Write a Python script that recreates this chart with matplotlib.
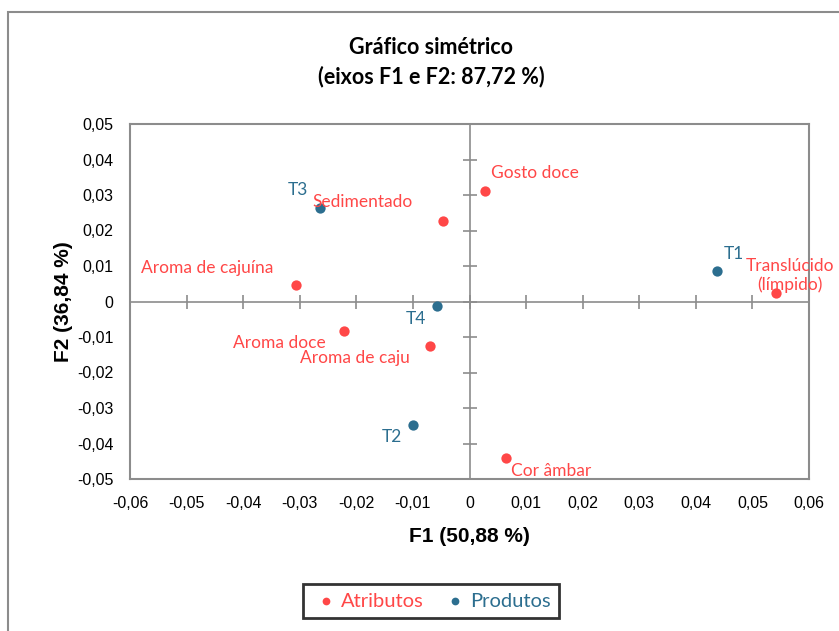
import matplotlib
matplotlib.use("Agg")
import matplotlib.pyplot as plt
from matplotlib.patches import Rectangle
import numpy as np

# ---- data ----
attr_names = ["Gosto doce", "Sedimentado", "Aroma de cajuína", "Aroma doce",
              "Aroma de caju", "Cor âmbar", "Translúcido\n(límpido)"]
attr_f1 = [0.0027, -0.0046, -0.0306, -0.0221, -0.0069, 0.0065, 0.0541]
attr_f2 = [0.0310, 0.0226, 0.0046, -0.0082, -0.0124, -0.0442, 0.0025]

prod_names = ["T1", "T2", "T3", "T4"]
prod_f1 = [0.0437, -0.0099, -0.0265, -0.0057]
prod_f2 = [0.0087, -0.0349, 0.0262, -0.0014]

xticks = [-0.06, -0.05, -0.04, -0.03, -0.02, -0.01, 0, 0.01, 0.02, 0.03, 0.04, 0.05, 0.06]
yticks = [-0.05, -0.04, -0.03, -0.02, -0.01, 0, 0.01, 0.02, 0.03, 0.04, 0.05]

# ---- label placement (pixel offsets, ha, va) ----
attr_off = [(6, 18, "left"), (-31, 19, "right"), (-23, 17, "right"), (-19, -12, "right"),
            (-21, -12, "right"), (5, -13, "left"), (14, 17, "center")]
prod_off = [(7, 17, "left"), (-11, -12, "right"), (-11, 18, "right"), (-11, -13, "right")]

RED = "#FF4747"
BLUE = "#2C6E8F"
GRAY = "#8C8C8C"
LBL = ["Lato", "DejaVu Sans"]
NARROW = ["Liberation Sans Narrow", "Liberation Sans", "DejaVu Sans"]

fig = plt.figure(figsize=(8.39, 6.31), dpi=100)
ax = fig.add_axes([130/839, 1-479/631, (809-130)/839, (479-124)/631])

ax.set_xlim(-0.06, 0.06)
ax.set_ylim(-0.05, 0.05)

def fmt(v):
    s = ("%.2f" % v).replace(".", ",")
    if abs(v) < 1e-9:
        s = "0"
    return s

ax.set_xticks(xticks)
ax.set_xticklabels([fmt(v) for v in xticks], family=NARROW, fontsize=11.5)
ax.set_yticks(yticks)
ax.set_yticklabels([fmt(v) for v in yticks], family=NARROW, fontsize=11.5)
ax.tick_params(axis="x", length=0, pad=12)
ax.tick_params(axis="y", length=0, pad=12)
for s in ax.spines.values():
    s.set_color(GRAY)
    s.set_linewidth(1.5)

# zero axes with crossing ticks
ax.axhline(0, color=GRAY, lw=1.2, zorder=1)
ax.axvline(0, color=GRAY, lw=1.2, zorder=1)
ax.plot(xticks[1:-1], [0]*len(xticks[1:-1]), ls="none", marker="|", ms=10, mew=1.2, color=GRAY, zorder=1)
ax.plot([0]*len(yticks[1:-1]), yticks[1:-1], ls="none", marker="_", ms=10, mew=1.2, color=GRAY, zorder=1)

ax.scatter(attr_f1, attr_f2, s=55, color=RED, zorder=3, label="Atributos", linewidths=0)
ax.scatter(prod_f1, prod_f2, s=55, color=BLUE, zorder=3, label="Produtos", linewidths=0)

for n, x, y, (dx, dy, ha) in zip(attr_names, attr_f1, attr_f2, attr_off):
    ax.annotate(n, (x, y), xytext=(dx, dy), textcoords="offset pixels", ha=ha, va="center",
                color=RED, family=LBL, fontsize=12.5, annotation_clip=False, linespacing=1.2)
for n, x, y, (dx, dy, ha) in zip(prod_names, prod_f1, prod_f2, prod_off):
    ax.annotate(n, (x, y), xytext=(dx, dy), textcoords="offset pixels", ha=ha, va="center",
                color=BLUE, family=LBL, fontsize=12.5)

ax.set_xlabel("F1 (50,88 %)", family=NARROW, fontsize=15, fontweight="bold", labelpad=12)
ax.set_ylabel("F2 (36,84 %)", family=NARROW, fontsize=15, fontweight="bold", labelpad=3)

fig.text(431/839, 1-48/631, "Gráfico simétrico", ha="center", va="center",
         family=LBL, fontsize=15.5, fontweight="bold")
fig.text(431/839, 1-77/631, "(eixos F1 e F2: 87,72 %)", ha="center", va="center",
         family=LBL, fontsize=15.5, fontweight="bold")

leg = fig.legend(loc="center", bbox_to_anchor=(431/839, 1-601/631), ncol=2, frameon=True,
                 prop={"family": LBL, "size": 14.5}, handletextpad=0.0, columnspacing=0.8,
                 markerscale=0.75, fancybox=False, borderpad=0.4, handlelength=1.5)
leg.get_frame().set_edgecolor("black")
leg.get_frame().set_linewidth(2)
for t, c in zip(leg.get_texts(), [RED, BLUE]):
    t.set_color(c)

fig.patches.append(Rectangle((8/839, -0.1), 1.2, 1.1 - 12/631, transform=fig.transFigure,
                             fill=False, edgecolor=GRAY, lw=1.5))

fig.savefig("out.png", dpi=100)
